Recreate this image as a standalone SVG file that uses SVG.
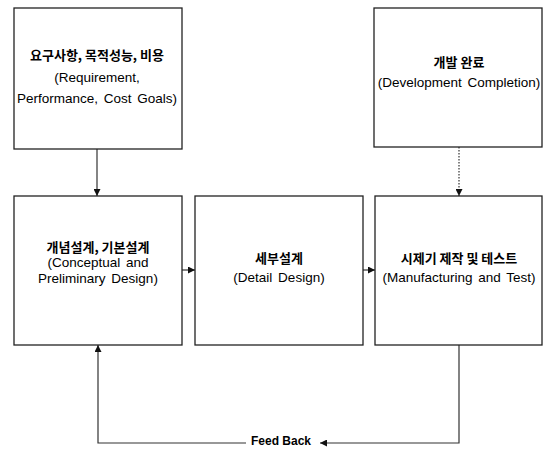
<svg xmlns="http://www.w3.org/2000/svg" width="544" height="449" viewBox="0 0 544 449">
<defs>
<marker id="ah" viewBox="0 0 10 10" refX="10" refY="5" markerWidth="7" markerHeight="7" markerUnits="userSpaceOnUse" orient="auto">
<path d="M0,0 L10,5 L0,10 z" fill="#111"/>
</marker>
<style>
.box{fill:#fff;stroke:#222;stroke-width:1.3}
.kr{font-family:"Noto Sans CJK KR","Liberation Sans",sans-serif;font-weight:bold;font-size:13px;fill:#000;text-anchor:middle}
.en{font-family:"Liberation Sans","Arial",sans-serif;font-size:13.5px;fill:#000;text-anchor:middle;word-spacing:2px}
.ln{fill:none;stroke:#333;stroke-width:1.2}
.fb{font-family:"Liberation Sans",sans-serif;font-weight:bold;font-size:12px;fill:#000}
</style>
</defs>
<rect width="544" height="449" fill="#fff"/>
<g id="connectors">
<line class="ln" x1="97" y1="149" x2="97" y2="196" marker-end="url(#ah)"/>
<line class="ln" x1="459" y1="147" x2="459" y2="196" stroke-dasharray="1.5,1.5" marker-end="url(#ah)"/>
<line class="ln" x1="182" y1="270" x2="195" y2="270" marker-end="url(#ah)"/>
<line class="ln" x1="363" y1="270" x2="375" y2="270" marker-end="url(#ah)"/>
<polyline class="ln" points="459,345 459,443 320,443" marker-end="url(#ah)"/>
<polyline class="ln" points="246,443 98,443 98,345" marker-end="url(#ah)"/>
<text class="fb" x="251" y="445">Feed Back</text>
</g>
<g id="n1">
<rect class="box" x="14" y="8" width="168" height="141"/>
<text class="kr" x="97" y="60">요구사항, 목적성능, 비용</text>
<text class="en" x="97" y="82">(Requirement,</text>
<text class="en" x="97" y="103">Performance, Cost Goals)</text>
</g>
<g id="n2">
<rect class="box" x="374" y="8" width="168" height="139"/>
<text class="kr" x="459" y="67">개발 완료</text>
<text class="en" x="459" y="87">(Development Completion)</text>
</g>
<g id="n3">
<rect class="box" x="14" y="196" width="168" height="149"/>
<text class="kr" x="98" y="252">개념설계, 기본설계</text>
<text class="en" x="98" y="267">(Conceptual and</text>
<text class="en" x="98" y="283">Preliminary Design)</text>
</g>
<g id="n4">
<rect class="box" x="195" y="196" width="168" height="149"/>
<text class="kr" x="279" y="263">세부설계</text>
<text class="en" x="279" y="282">(Detail Design)</text>
</g>
<g id="n5">
<rect class="box" x="375" y="196" width="167" height="149"/>
<text class="kr" x="459" y="263">시제기 제작 및 테스트</text>
<text class="en" x="459" y="282">(Manufacturing and Test)</text>
</g>
</svg>
